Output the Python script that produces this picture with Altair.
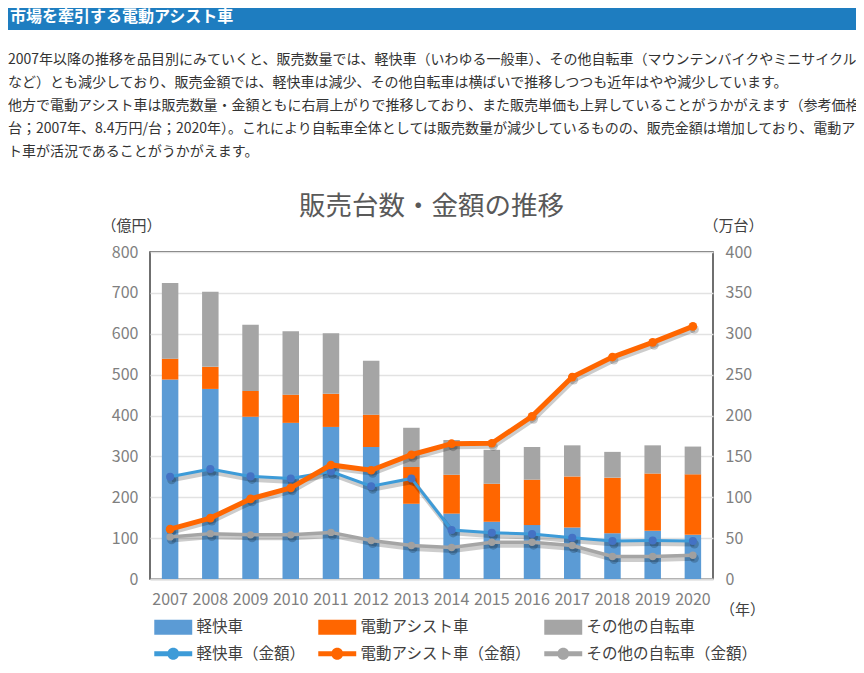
import altair as alt
import pandas as pd

FONT = "Noto Sans CJK JP"

# ---------------- data ----------------
years = [str(y) for y in range(2007, 2021)]

# 販売台数（万台） - stacked bars, right axis
light_units = [244, 232.5, 198.5, 191, 186, 161.5, 92, 80, 70, 66, 63, 56, 59, 54]
assist_units = [25.5, 27, 31.5, 34.5, 40.5, 39.5, 45, 47.5, 46.5, 55.5, 62.5, 68, 70, 74]
other_units = [92.5, 92, 81, 77.5, 74, 66, 48, 42.5, 41.5, 40, 38, 31.5, 34.5, 34]

# 販売金額（億円） - lines, left axis
light_amount = [250, 269, 251, 246, 263, 227, 246, 120, 113, 110, 101, 93, 94, 93]
assist_amount = [122, 149, 196, 223, 279, 266, 304, 331, 332, 398, 494, 543, 579, 618]
other_amount = [103, 111, 108, 108, 114, 94, 82, 77, 90, 90, 82, 55, 55, 58]

bar_series = ["軽快車", "電動アシスト車", "その他の自転車"]
line_series = ["軽快車（金額）", "電動アシスト車（金額）", "その他の自転車（金額）"]
all_series = bar_series + line_series
series_colors = ["#5b9bd5", "#ff6600", "#a5a5a5", "#3d9bd8", "#ff6600", "#a5a5a5"]

y_left_ticks = list(range(0, 801, 100))
y_right_ticks = list(range(0, 401, 50))

chart_title = "販売台数・金額の推移"
header_text = "市場を牽引する電動アシスト車"
para_lines = [
    "2007年以降の推移を品目別にみていくと、販売数量では、軽快車（いわゆる一般車）、その他自転車（マウンテンバイクやミニサイクル、子供車",
    "など）とも減少しており、販売金額では、軽快車は減少、その他自転車は横ばいで推移しつつも近年はやや減少しています。",
    "他方で電動アシスト車は販売数量・金額ともに右肩上がりで推移しており、また販売単価も上昇していることがうかがえます（参考価格4.9万円/",
    "台；2007年、8.4万円/台；2020年）。これにより自転車全体としては販売数量が減少しているものの、販売金額は増加しており、電動アシス",
    "ト車が活況であることがうかがえます。",
]

# ---------------- tables ----------------
bar_rows = []
for k, (name, vals) in enumerate(zip(bar_series, [light_units, assist_units, other_units])):
    for yr, v in zip(years, vals):
        bar_rows.append({"year": yr, "series": name, "units": v, "ord": k})
bars_df = pd.DataFrame(bar_rows)

line_rows = []
for name, vals in zip(line_series, [light_amount, assist_amount, other_amount]):
    for yr, v in zip(years, vals):
        line_rows.append({"year": yr, "series": name, "amount": v})
lines_df = pd.DataFrame(line_rows)

legend_df = pd.DataFrame({"series": all_series})
text_df = pd.DataFrame({
    "header": [header_text],
    "para": ["\n".join(para_lines)],
    "title": [chart_title],
})

# ---------------- legend symbols ----------------
RECT = "M-2.53,-1H2.53V1H-2.53Z"
LINEDOT = ("M-2.53,-0.33H2.53V0.33H-2.53Z "
           "M-0.8,0A0.8,0.8 0 1,1 0.8,0A0.8,0.8 0 1,1 -0.8,0Z")

legend = alt.Legend(
    orient="none", legendX=4, legendY=367, direction="horizontal", columns=3,
    title=None, labelFont=FONT, labelFontSize=15.5, labelColor="#404040",
    symbolSize=225, symbolOffset=11.5, labelOffset=15.5, columnPadding=12,
    rowPadding=10, symbolStrokeWidth=0, symbolOpacity=1, padding=0,
    labelLimit=400,
)
color = alt.Color("series:N", scale=alt.Scale(domain=all_series, range=series_colors), legend=legend)
shape = alt.Shape("series:N", scale=alt.Scale(domain=all_series, range=[RECT, RECT, RECT, LINEDOT, LINEDOT, LINEDOT]), legend=legend)

# ---------------- axes ----------------
x_enc = alt.X(
    "year:O",
    scale=alt.Scale(paddingInner=0.59, paddingOuter=0.295),
    axis=alt.Axis(
        title="（年）", titleAngle=0, titleX=592, titleY=30, titleAlign="center",
        titleBaseline="middle", titleFont=FONT, titleFontSize=15, titleFontWeight="normal",
        titleColor="#404040", labelAngle=0, labelFont=FONT, labelFontSize=16,
        labelColor="#7f7f7f", labelPadding=12, ticks=False, domainColor="#d9d9d9",
        domainWidth=2, grid=False,
    ),
)

y_units = alt.Y(
    "units:Q", stack="zero", scale=alt.Scale(domain=[0, 400]),
    axis=alt.Axis(
        orient="right", values=y_right_ticks, title="（万台）", titleAngle=0,
        titleX=20, titleY=-27, titleAlign="center", titleBaseline="middle",
        titleFont=FONT, titleFontSize=15, titleFontWeight="normal", titleColor="#404040",
        labelFont=FONT, labelFontSize=16, labelColor="#7f7f7f", labelPadding=12,
        ticks=False, domain=False, grid=False,
    ),
)

y_amount = alt.Y(
    "amount:Q", scale=alt.Scale(domain=[0, 800]),
    axis=alt.Axis(
        orient="left", values=y_left_ticks, title="（億円）", titleAngle=0,
        titleX=-19, titleY=-27, titleAlign="center", titleBaseline="middle",
        titleFont=FONT, titleFontSize=15, titleFontWeight="normal", titleColor="#404040",
        labelFont=FONT, labelFontSize=16, labelColor="#7f7f7f", labelPadding=12,
        ticks=False, domain=False, grid=True, gridColor="#e2e2e2", gridWidth=1.5,
    ),
)

# ---------------- layers ----------------
legend_layer = alt.Chart(legend_df).mark_point(filled=True, opacity=1).encode(
    color=color, shape=shape
).transform_filter("false")

bars = alt.Chart(bars_df).mark_bar().encode(
    x=x_enc, y=y_units, color=color, order=alt.Order("ord:Q", sort="ascending")
)

base_line = alt.Chart(lines_df)
shadow = base_line.mark_line(color="#000000", opacity=0.2, strokeWidth=5, xOffset=1.5, yOffset=3).encode(
    x=x_enc, y=y_amount, detail="series:N"
)
shadow_pts = base_line.mark_circle(color="#000000", opacity=0.2, size=80, xOffset=1.5, yOffset=3).encode(
    x=x_enc, y=y_amount
)

def series_line(name, width):
    return base_line.transform_filter(alt.datum.series == name).mark_line(strokeWidth=width).encode(
        x=x_enc, y=y_amount, color=color
    )

def series_pts(name, col, size):
    return base_line.transform_filter(alt.datum.series == name).mark_circle(color=col, opacity=1, size=size).encode(
        x=x_enc, y=y_amount
    )

lines = alt.layer(
    shadow, shadow_pts,
    series_line(line_series[2], 3.5), series_pts(line_series[2], "#a0a0a0", 55),
    series_line(line_series[0], 3), series_pts(line_series[0], "#4472c4", 65),
    series_line(line_series[1], 5), series_pts(line_series[1], "#ff6600", 75),
)

header_bar = alt.Chart(text_df).mark_rect(color="#1e7dc0").encode(
    x=alt.value(-142), x2=alt.value(706), y=alt.value(-244), y2=alt.value(-222)
)
header = alt.Chart(text_df).mark_text(
    align="left", baseline="middle", font=FONT, fontSize=16, fontWeight="bold", color="#ffffff"
).encode(text="header:N", x=alt.value(-140), y=alt.value(-235))
paragraph = alt.Chart(text_df).mark_text(
    align="left", baseline="middle", font=FONT, fontSize=14, color="#333333",
    lineBreak="\n", lineHeight=23,
).encode(text="para:N", x=alt.value(-142), y=alt.value(-192))
title = alt.Chart(text_df).mark_text(
    align="center", baseline="middle", font=FONT, fontSize=26.5, color="#595959"
).encode(text="title:N", x=alt.value(281.5), y=alt.value(-45))

chart = alt.layer(
    legend_layer, bars, lines, header_bar, header, paragraph, title
).resolve_scale(
    y="independent"
).properties(
    width=563, height=327,
    padding={"left": 142, "top": 244, "right": 143, "bottom": 84},
    autosize=alt.AutoSizeParams(type="none"),
).configure_view(
    stroke="#404040", strokeWidth=1.5
)

chart.save("out.html", embed_options={"renderer": "svg", "actions": False})
